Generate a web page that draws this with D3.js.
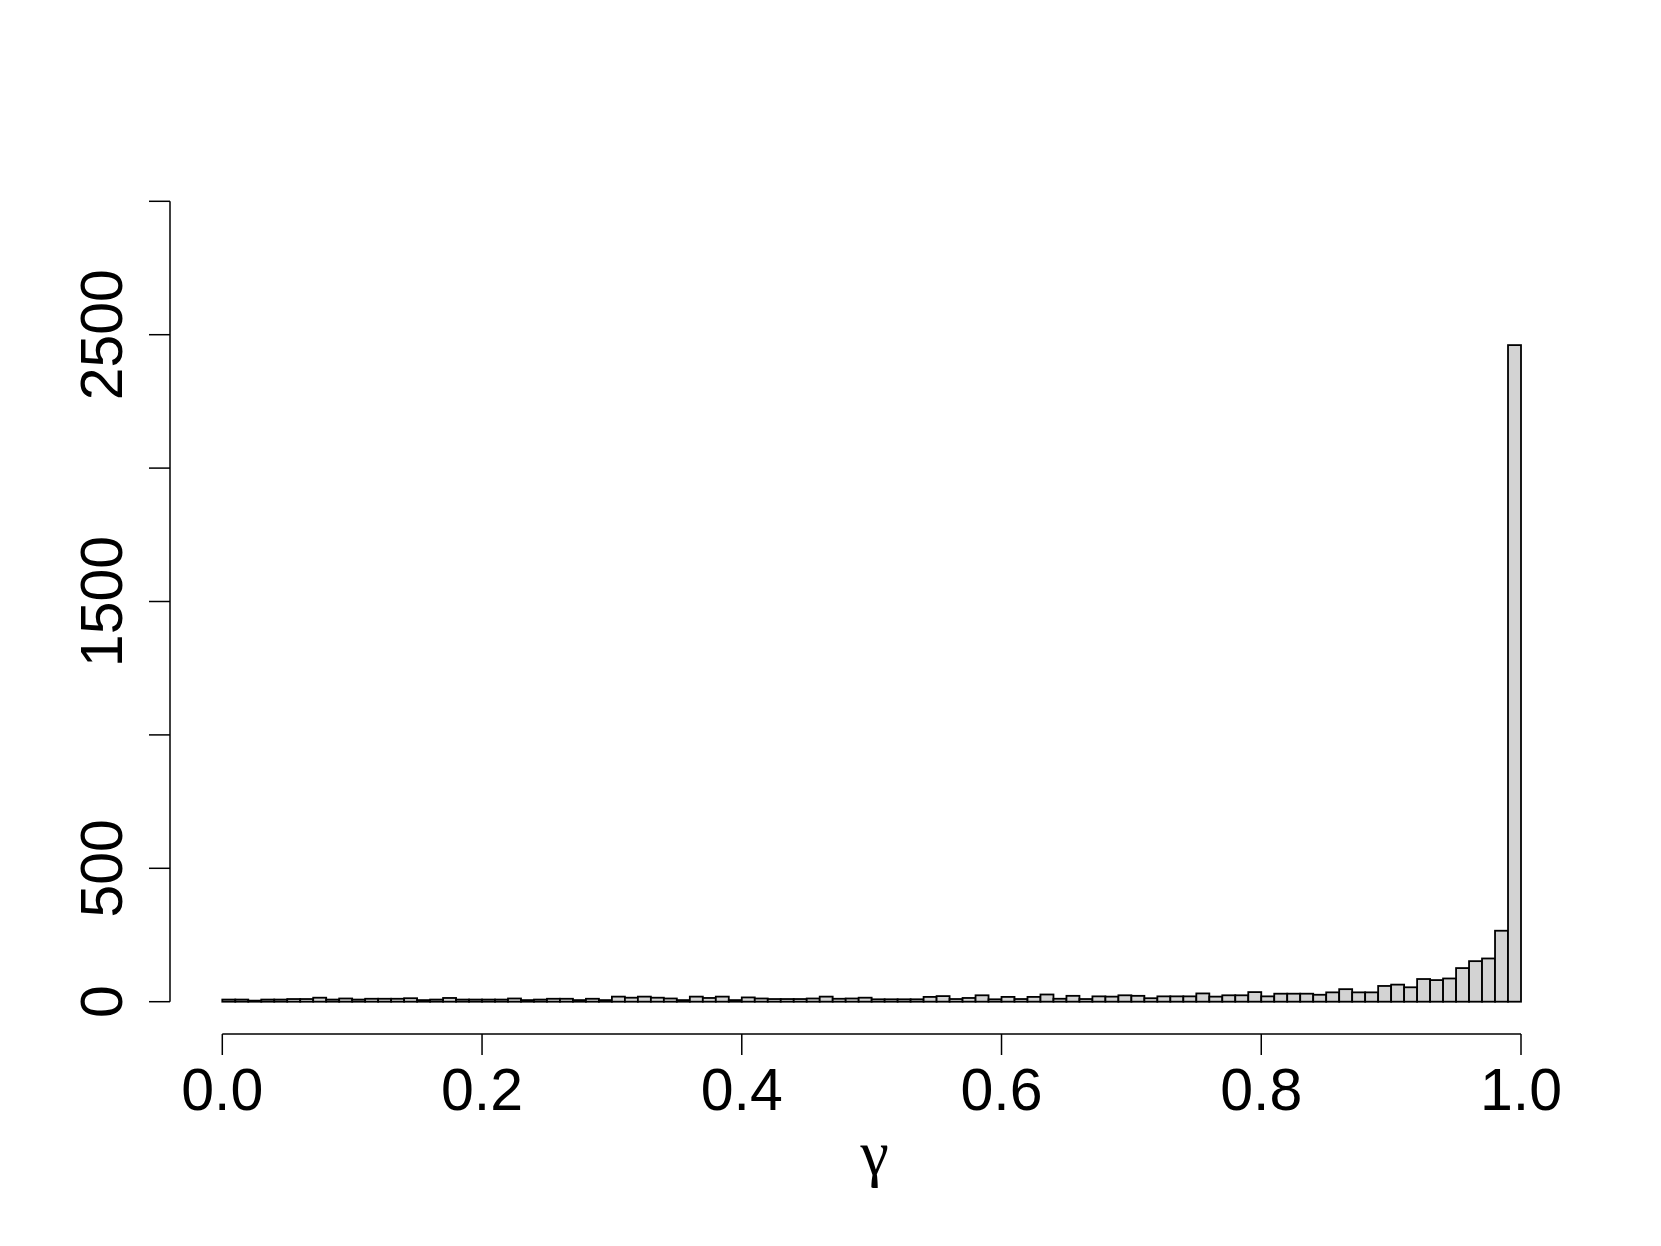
<!DOCTYPE html>
<html>
<head>
<meta charset="utf-8">
<script src="https://cdn.jsdelivr.net/npm/d3@7"></script>
<style>
  body { margin: 0; background: #fff; }
  text { font-family: "Liberation Sans", Arial, Helvetica, sans-serif; fill: #000; }
</style>
</head>
<body>
<svg id="chart" width="1661" height="1246"></svg>
<script>
// histogram of gamma, 100 bins over [0, 1]
const binEdges = d3.range(0, 101).map(i => i / 100);
const counts = [
  8, 8, 4, 8, 8, 10, 10, 15, 8, 12, 8, 11, 11, 11, 13, 6, 8, 14, 8, 8, 8, 8, 12, 6, 8,
  11, 11, 6, 11, 6, 19, 15, 19, 15, 12, 6, 19, 14, 19, 6, 16, 12, 10, 10, 10, 12, 19, 11, 12, 15,
  9, 9, 9, 9, 18, 21, 10, 14, 24, 9, 18, 10, 18, 27, 11, 22, 10, 20, 19, 24, 22, 13, 20, 20, 20,
  31, 19, 24, 24, 36, 20, 30, 30, 30, 26, 35, 47, 35, 35, 59, 64, 54, 85, 81, 87, 126, 152, 162, 266, 2461
];
const xTicks = [0, 0.2, 0.4, 0.6, 0.8, 1.0];
const yTicks = [0, 500, 1000, 1500, 2000, 2500, 3000];
const yTickLabels = [0, 500, 1500, 2500]; // R drops the overlapping ones
const xLabel = "γ";

const svg = d3.select("#chart");
const x = d3.scaleLinear().domain([0, 1]).range([222.3, 1521]);
const y = d3.scaleLinear().domain([0, 3000]).range([1001.7, 201.3]);

const bins = counts.map((c, i) => ({x0: binEdges[i], x1: binEdges[i + 1], n: c}));

  // bars
svg.append("g").selectAll("rect")
    .data(bins)
    .join("rect")
    .attr("x", d => x(d.x0))
    .attr("y", d => y(d.n))
    .attr("width", d => x(d.x1) - x(d.x0))
    .attr("height", d => y(0) - y(d.n))
    .attr("fill", "#d3d3d3")
    .attr("stroke", "#000")
    .attr("stroke-width", 1.8);

  // x axis (R style, detached below the plot)
const xAxisY = 1034;
const gx = svg.append("g");
gx.append("line")
    .attr("x1", x(0)).attr("x2", x(1))
    .attr("y1", xAxisY).attr("y2", xAxisY)
    .attr("stroke", "#000").attr("stroke-width", 1.5);
gx.selectAll("line.tick")
    .data(xTicks)
    .join("line")
    .attr("class", "tick")
    .attr("x1", d => x(d)).attr("x2", d => x(d))
    .attr("y1", xAxisY).attr("y2", 1055)
    .attr("stroke", "#000").attr("stroke-width", 1.5);
gx.selectAll("text")
    .data(xTicks)
    .join("text")
    .attr("x", d => x(d))
    .attr("y", 1110)
    .attr("text-anchor", "middle")
    .style("font-size", "59px")
    .text(d => d.toFixed(1));

  // y axis
const yAxisX = 170;
const gy = svg.append("g");
gy.append("line")
    .attr("x1", yAxisX).attr("x2", yAxisX)
    .attr("y1", y(0)).attr("y2", y(3000))
    .attr("stroke", "#000").attr("stroke-width", 1.5);
gy.selectAll("line.tick")
    .data(yTicks)
    .join("line")
    .attr("class", "tick")
    .attr("x1", yAxisX - 21).attr("x2", yAxisX)
    .attr("y1", d => y(d)).attr("y2", d => y(d))
    .attr("stroke", "#000").attr("stroke-width", 1.5);
gy.selectAll("text")
    .data(yTickLabels)
    .join("text")
    .attr("transform", d => "translate(122," + y(d) + ") rotate(-90)")
    .attr("text-anchor", "middle")
    .style("font-size", "59px")
    .text(d => d);

  // x label
svg.append("text")
    .attr("x", (x(0) + x(1)) / 2 + 3)
    .attr("y", 1174)
    .attr("text-anchor", "middle")
    .style("font-family", "'Liberation Serif', 'DejaVu Serif', serif")
    .style("font-size", "64px")
    .text(xLabel);
</script>
</body>
</html>
